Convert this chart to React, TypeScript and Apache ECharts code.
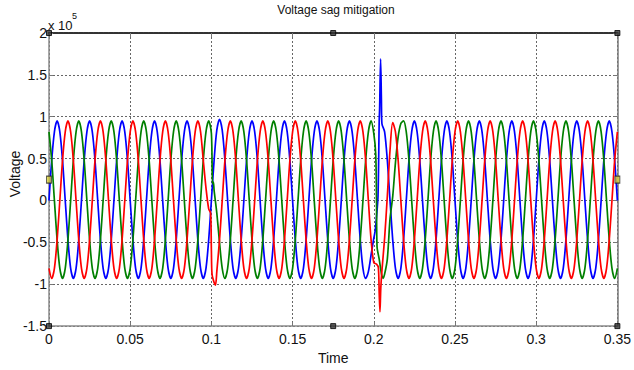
import React, { useEffect, useRef } from "react";
import * as echarts from "echarts";

// Time grid: one sample every 30 electrical degrees of the 50 Hz supply (0 … 0.35 s)
const SAMPLE_STEP = 0.02 / 12;

// Voltage samples in units of 1e5 V (as shown on the axis).
const blueValues = [
  0, 0.48, 0.82, 0.95, 0.82, 0.48, 0, -0.47, -0.81, -0.93, -0.81, -0.47,
  0, 0.48, 0.82, 0.95, 0.82, 0.48, 0, -0.47, -0.81, -0.93, -0.81, -0.47,
  0, 0.48, 0.82, 0.95, 0.82, 0.48, 0, -0.47, -0.81, -0.93, -0.81, -0.47,
  0, 0.48, 0.82, 0.95, 0.82, 0.48, 0, -0.47, -0.81, -0.93, -0.81, -0.47,
  0, 0.48, 0.82, 0.95, 0.82, 0.48, 0, -0.47, -0.81, -0.93, -0.81, -0.47,
  0, 0.48, 0.84, 0.97, 0.84, 0.48, 0, -0.47, -0.81, -0.93, -0.81, -0.47,
  0, 0.48, 0.82, 0.95, 0.82, 0.48, 0, -0.47, -0.81, -0.93, -0.81, -0.47,
  0, 0.48, 0.82, 0.95, 0.82, 0.48, 0, -0.47, -0.81, -0.93, -0.81, -0.47,
  0, 0.48, 0.82, 0.95, 0.82, 0.48, 0, -0.47, -0.81, -0.93, -0.81, -0.47,
  0, 0.48, 0.82, 0.95, 0.82, 0.48, 0, -0.47, -0.81, -0.93, -0.85, -0.65,
  -0.45, -0.2, 0.95, 0.92, 0.82, 0.48, 0, -0.47, -0.81, -0.93, -0.81, -0.47,
  0, 0.48, 0.82, 0.95, 0.82, 0.48, 0, -0.47, -0.81, -0.93, -0.81, -0.47,
  0, 0.48, 0.82, 0.95, 0.82, 0.48, 0, -0.47, -0.81, -0.93, -0.81, -0.47,
  0, 0.48, 0.82, 0.95, 0.82, 0.48, 0, -0.47, -0.81, -0.93, -0.81, -0.47,
  0, 0.48, 0.82, 0.95, 0.82, 0.48, 0, -0.47, -0.81, -0.93, -0.81, -0.47,
  0, 0.48, 0.82, 0.95, 0.82, 0.48, 0, -0.47, -0.81, -0.93, -0.81, -0.47,
  0, 0.48, 0.82, 0.95, 0.82, 0.48, 0, -0.47, -0.81, -0.93, -0.81, -0.47,
  0, 0.48, 0.82, 0.95, 0.82, 0.48, 0,
];

const redValues = [
  -0.81, -0.93, -0.81, -0.47, 0, 0.48, 0.82, 0.95, 0.82, 0.48, 0, -0.47,
  -0.81, -0.93, -0.81, -0.47, 0, 0.48, 0.82, 0.95, 0.82, 0.48, 0, -0.47,
  -0.81, -0.93, -0.81, -0.47, 0, 0.48, 0.82, 0.95, 0.82, 0.48, 0, -0.47,
  -0.81, -0.93, -0.81, -0.47, 0, 0.48, 0.82, 0.95, 0.82, 0.48, 0, -0.47,
  -0.81, -0.93, -0.81, -0.47, 0, 0.48, 0.82, 0.95, 0.82, 0.48, 0.15, -0.1,
  -0.6, -0.98, -0.85, -0.47, 0, 0.48, 0.82, 0.95, 0.82, 0.48, 0, -0.47,
  -0.81, -0.93, -0.81, -0.47, 0, 0.48, 0.82, 0.95, 0.82, 0.48, 0, -0.47,
  -0.81, -0.93, -0.81, -0.47, 0, 0.48, 0.82, 0.95, 0.82, 0.48, 0, -0.47,
  -0.81, -0.93, -0.81, -0.47, 0, 0.48, 0.82, 0.95, 0.82, 0.48, 0, -0.47,
  -0.81, -0.93, -0.81, -0.47, 0, 0.48, 0.82, 0.95, 0.82, 0.48, 0, -0.47,
  -0.74, -0.76, -1.1, -0.84, -0.45, 0.05, 0.6, 0.93, 0.82, 0.48, 0, -0.47,
  -0.81, -0.93, -0.81, -0.47, 0, 0.48, 0.82, 0.95, 0.82, 0.48, 0, -0.47,
  -0.81, -0.93, -0.81, -0.47, 0, 0.48, 0.82, 0.95, 0.82, 0.48, 0, -0.47,
  -0.81, -0.93, -0.81, -0.47, 0, 0.48, 0.82, 0.95, 0.82, 0.48, 0, -0.47,
  -0.81, -0.93, -0.81, -0.47, 0, 0.48, 0.82, 0.95, 0.82, 0.48, 0, -0.47,
  -0.81, -0.93, -0.81, -0.47, 0, 0.48, 0.82, 0.95, 0.82, 0.48, 0, -0.47,
  -0.81, -0.93, -0.81, -0.47, 0, 0.48, 0.82, 0.95, 0.82, 0.48, 0, -0.47,
  -0.81, -0.93, -0.81, -0.47, 0, 0.48, 0.82,
];

const greenValues = [
  0.82, 0.48, 0, -0.47, -0.81, -0.93, -0.81, -0.47, 0, 0.48, 0.82, 0.95,
  0.82, 0.48, 0, -0.47, -0.81, -0.93, -0.81, -0.47, 0, 0.48, 0.82, 0.95,
  0.82, 0.48, 0, -0.47, -0.81, -0.93, -0.81, -0.47, 0, 0.48, 0.82, 0.95,
  0.82, 0.48, 0, -0.47, -0.81, -0.93, -0.81, -0.47, 0, 0.48, 0.82, 0.95,
  0.82, 0.48, 0, -0.47, -0.81, -0.93, -0.81, -0.47, 0, 0.48, 0.82, 0.95,
  0.8, 0.12, -0.15, -0.5, -0.81, -0.93, -0.81, -0.47, 0, 0.48, 0.82, 0.95,
  0.82, 0.48, 0, -0.47, -0.81, -0.93, -0.81, -0.47, 0, 0.48, 0.82, 0.95,
  0.82, 0.48, 0, -0.47, -0.81, -0.93, -0.81, -0.47, 0, 0.48, 0.82, 0.95,
  0.82, 0.48, 0, -0.47, -0.81, -0.93, -0.81, -0.47, 0, 0.48, 0.82, 0.95,
  0.82, 0.48, 0, -0.47, -0.81, -0.93, -0.81, -0.47, 0, 0.48, 0.82, 0.95,
  0.8, 0, -0.7, -0.9, -0.88, -0.7, -0.22, 0.05, 0.45, 0.76, 0.92, 0.95,
  0.82, 0.48, 0, -0.47, -0.81, -0.93, -0.81, -0.47, 0, 0.48, 0.82, 0.95,
  0.82, 0.48, 0, -0.47, -0.81, -0.93, -0.81, -0.47, 0, 0.48, 0.82, 0.95,
  0.82, 0.48, 0, -0.47, -0.81, -0.93, -0.81, -0.47, 0, 0.48, 0.82, 0.95,
  0.82, 0.48, 0, -0.47, -0.81, -0.93, -0.81, -0.47, 0, 0.48, 0.82, 0.95,
  0.82, 0.48, 0, -0.47, -0.81, -0.93, -0.81, -0.47, 0, 0.48, 0.82, 0.95,
  0.82, 0.48, 0, -0.47, -0.81, -0.93, -0.81, -0.47, 0, 0.48, 0.82, 0.95,
  0.82, 0.48, 0, -0.47, -0.81, -0.93, -0.81,
];

// Extra points [time s, value] read around the two switching transients
const blueTransient = [
  [0.2008, -0.37], [0.2026, 0.05], [0.2036, 1.1], [0.2042, 1.69], [0.2047, 1.2],
];
const redTransient = [
  [0.0995, -0.15], [0.1004, -0.88], [0.1025, -1.01],
  [0.2028, -0.8], [0.2038, -1.33], [0.2043, -1.05],
];
const greenTransient = [
  [0.1007, 0.2], [0.1012, 0.22],
  [0.2012, 0.55], [0.202, -0.55], [0.2045, -0.85], [0.2057, -0.93],
];

const xTickLabels = ["0", "0.05", "0.1", "0.15", "0.2", "0.25", "0.3", "0.35"];
const yTickLabels = ["-1.5", "-1", "-0.5", "0", "0.5", "1", "1.5", "2"];

// MATLAB figure selection handles [time, value]
const handlesDark = [[0, 2], [0.175, 2], [0.35, 2], [0, -1.5], [0.175, -1.5], [0.35, -1.5]];
const handlesSide = [[0, 0.25], [0.35, 0.25]];

const FONT = "'Liberation Sans', Arial, Helvetica, sans-serif";

function buildSeries(values: number[], extras: number[][]) {
  const pts = values.map((v, k) => [k * SAMPLE_STEP, v]);
  return pts.concat(extras).sort((a, b) => a[0] - b[0]);
}

export default function App() {
  const ref = useRef<HTMLDivElement>(null);

  useEffect(() => {
    if (!ref.current) return;
    const chart = echarts.init(ref.current, undefined, { renderer: "svg" });

    const lineSeries = (name: string, color: string, data: number[][]) => ({
      name,
      type: "line",
      data,
      showSymbol: false,
      symbol: "none",
      smooth: 0.3,
      lineStyle: { color, width: 1.7 },
      itemStyle: { color },
      z: 3,
    });

    const fmtX = (v: number) => {
      const idx = Math.round(v / 0.05);
      return xTickLabels[idx] ?? String(v);
    };
    const fmtY = (v: number) => {
      const idx = Math.round((v + 1.5) / 0.5);
      return yTickLabels[idx] ?? String(v);
    };

    const gridLine = { show: true, lineStyle: { color: "#666", width: 1, type: [2, 2] } };

    chart.setOption({
      animation: false,
      backgroundColor: "#ffffff",
      grid: { left: 49, right: 11, top: 33, bottom: 37, containLabel: false },
      xAxis: [
        {
          type: "value",
          min: 0,
          max: 0.35,
          interval: 0.05,
          position: "bottom",
          axisLine: { show: true, onZero: false, lineStyle: { color: "#8a8a8a", width: 1.5 } },
          axisTick: { show: true, inside: true, length: 4, lineStyle: { color: "#777" } },
          axisLabel: { margin: 6, fontSize: 14, fontFamily: FONT, color: "#111", formatter: fmtX },
          splitLine: gridLine,
          name: "Time",
          nameLocation: "middle",
          nameGap: 22,
          nameTextStyle: { fontSize: 14, fontFamily: FONT, color: "#111" },
        },
        {
          type: "value",
          min: 0,
          max: 0.35,
          interval: 0.05,
          position: "top",
          axisLine: { show: true, onZero: false, lineStyle: { color: "#333", width: 2, type: [1.5, 1] } },
          axisTick: { show: true, inside: true, length: 4, lineStyle: { color: "#777" } },
          axisLabel: { show: false },
          splitLine: { show: false },
        },
      ],
      yAxis: [
        {
          type: "value",
          min: -1.5,
          max: 2,
          interval: 0.5,
          position: "left",
          axisLine: { show: true, onZero: false, lineStyle: { color: "#8a8a8a", width: 1.5 } },
          axisTick: { show: true, inside: true, length: 4, lineStyle: { color: "#777" } },
          axisLabel: { margin: 2, fontSize: 14, fontFamily: FONT, color: "#111", formatter: fmtY },
          splitLine: gridLine,
        },
        {
          type: "value",
          min: -1.5,
          max: 2,
          interval: 0.5,
          position: "right",
          axisLine: { show: true, onZero: false, lineStyle: { color: "#7a7a7a", width: 1.5 } },
          axisTick: { show: true, inside: true, length: 4, lineStyle: { color: "#777" } },
          axisLabel: { show: false },
          splitLine: { show: false },
        },
      ],
      series: [
        lineSeries("Phase A", "#0000ff", buildSeries(blueValues, blueTransient)),
        lineSeries("Phase C", "#008000", buildSeries(greenValues, greenTransient)),
        lineSeries("Phase B", "#ff0000", buildSeries(redValues, redTransient)),
        {
          type: "scatter",
          data: handlesDark,
          symbol: "rect",
          symbolSize: 5,
          clip: false,
          itemStyle: { color: "#333", borderColor: "#000", borderWidth: 1 },
          z: 10,
          silent: true,
        },
        {
          type: "scatter",
          data: handlesSide,
          symbol: "rect",
          symbolSize: [5, 7],
          clip: false,
          itemStyle: { color: "#d8cf3a", borderColor: "#222", borderWidth: 1 },
          z: 10,
          silent: true,
        },
      ],
      graphic: [
        {
          type: "text",
          x: 336,
          y: 10,
          style: {
            text: "Voltage sag mitigation",
            fontSize: 12,
            fontFamily: FONT,
            fill: "#111",
            align: "center",
            verticalAlign: "middle",
          },
        },
        {
          type: "text",
          x: 15,
          y: 174,
          rotation: Math.PI / 2,
          style: {
            text: "Voltage",
            fontSize: 14,
            fontFamily: FONT,
            fill: "#111",
            align: "center",
            verticalAlign: "middle",
          },
        },
        {
          type: "text",
          x: 48,
          y: 25,
          style: {
            text: "x 10",
            fontSize: 13,
            fontFamily: FONT,
            fill: "#111",
            align: "left",
            verticalAlign: "middle",
          },
        },
        {
          type: "text",
          x: 72,
          y: 16,
          style: {
            text: "5",
            fontSize: 9,
            fontFamily: FONT,
            fill: "#111",
            align: "left",
            verticalAlign: "middle",
          },
        },
      ],
    });

    return () => chart.dispose();
  }, []);

  return (
    <div
      ref={ref}
      style={{ position: "absolute", left: 0, top: 0, width: 634, height: 370, background: "#fff" }}
    />
  );
}
